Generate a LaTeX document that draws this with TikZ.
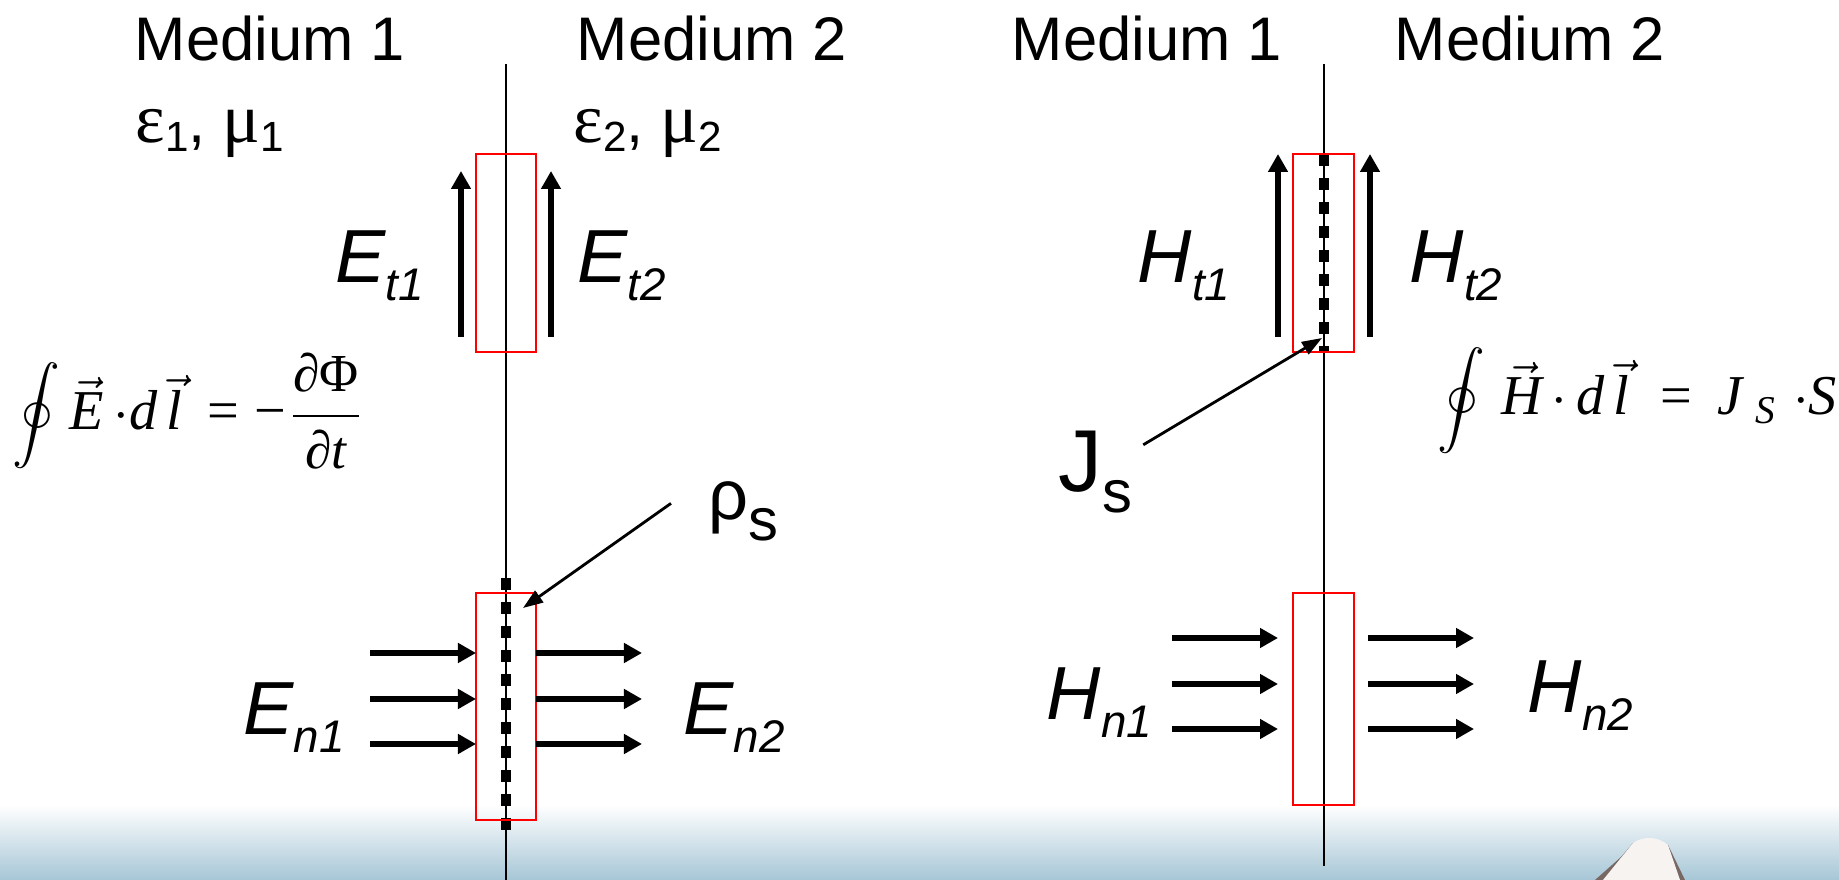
\RequirePackage{fix-cm}
\documentclass[tikz,border=0pt]{standalone}
\usepackage{amsmath}
\usepackage[no-math]{fontspec}
\setmainfont{Liberation Sans}
\newfontfamily\grkfont{Liberation Serif}
\usepackage{tikz}
\usetikzlibrary{arrows.meta}

\definecolor{bandblue}{RGB}{166,198,214}
\definecolor{peakbrown}{RGB}{120,104,100}
\definecolor{snow}{RGB}{246,243,241}

\newcommand{\grk}[1]{{\grkfont\fontsize{20}{24}\selectfont #1}}
\newcommand{\lowsub}[1]{\raisebox{-2.5pt}{\fontsize{12}{14}\selectfont #1}}
\newcommand{\fieldlbl}[2]{{\fontsize{21.4}{24}\selectfont\itshape #1}\raisebox{-5pt}{\fontsize{13}{15}\selectfont\itshape #2}}
\newcommand{\tm}[1]{\text{\grkfont\itshape #1}}
\newcommand{\tu}[1]{\text{\grkfont #1}}
\newcommand{\fracpart}[1]{\text{\grkfont\fontsize{9.5}{11}\selectfont #1}}
\newcommand{\loopint}{\vcenter{\hbox{\scalebox{0.85}{$\displaystyle\oint$}}}}

\begin{document}
\begin{tikzpicture}[x=0.01cm, y=-0.01cm,
    medium/.style={anchor=base, inner sep=0pt, font=\fontsize{17.5}{20}\selectfont},
    field/.style={anchor=base west, inner sep=0pt, font=\fontsize{17.5}{20}\selectfont},
    eqn/.style={anchor=base west, inner sep=0pt},
    iface/.style={line width=0.8pt},
    charge/.style={line width=0.1cm, dash pattern=on 0.12cm off 0.12cm},
    pillbox/.style={draw=red, line width=0.8pt},
    vec/.style={line width=1.5pt, -{Triangle[length=0.18cm,width=0.19cm]}},
    pointer/.style={line width=0.8pt, -{Triangle[length=0.2cm,width=0.14cm]}}]

    \useasboundingbox (0,0) rectangle (1839,880);

    % Fondo
    \shade[top color=white, bottom color=bandblue] (0,805) rectangle (1839,880);
    \fill[peakbrown] (1595,880) -- (1621,857) -- (1633,843) -- (1668,845) -- (1685,880) -- cycle;
    \fill[snow] (1603,880) -- (1633,843) .. controls (1643,836) and (1658,836) .. (1668,845) -- (1680,880) -- cycle;

    % Interfaces
    \draw[iface] (506,64) -- (506,880);
    \draw[iface] (1324,64) -- (1324,866);
    \draw[charge] (506,578) -- (506,830);
    \draw[charge] (1324,154) -- (1324,352);

    % Cajas
    \draw[pillbox] (476,154) rectangle (536,352);
    \draw[pillbox] (476,593) rectangle (536,820);
    \draw[pillbox] (1293,154) rectangle (1354,352);
    \draw[pillbox] (1293,593) rectangle (1354,805);

    % Campos tangenciales
    \draw[vec] (461,337) -- (461,171);
    \draw[vec] (551,337) -- (551,171);
    \draw[vec] (1278,337) -- (1278,154);
    \draw[vec] (1370,337) -- (1370,154);

    % Campos normales
    \foreach \y in {653,699,744} {
        \draw[vec] (370,\y) -- (476,\y);
        \draw[vec] (536,\y) -- (642,\y);
    }
    \foreach \y in {638,684,729} {
        \draw[vec] (1172,\y) -- (1278,\y);
        \draw[vec] (1368,\y) -- (1474,\y);
    }

    % Etiquetas
    \node[medium] (medEa) at (270,61) {Medium 1};
    \node[medium] (medEb) at (712,61) {Medium 2};
    \node[medium] (medHa) at (1147,61) {Medium 1};
    \node[medium] (medHb) at (1530,61) {Medium 2};
    \node[field] (mat1) at (135,143) {\grk{ε}\lowsub{1}, \grk{μ}\lowsub{1}};
    \node[field] (mat2) at (573,143) {\grk{ε}\lowsub{2}, \grk{μ}\lowsub{2}};

    \node[field] (et1) at (335,283) {\fieldlbl{E}{t1}};
    \node[field] (et2) at (577,283) {\fieldlbl{E}{t2}};
    \node[field] (ht1) at (1137,283) {\fieldlbl{H}{t1}};
    \node[field] (ht2) at (1409,283) {\fieldlbl{H}{t2}};
    \node[field] (en1) at (243,735) {\fieldlbl{E}{n1}};
    \node[field] (en2) at (683,735) {\fieldlbl{E}{n2}};
    \node[field] (hn1) at (1046,720) {\fieldlbl{H}{n1}};
    \node[field] (hn2) at (1527,713) {\fieldlbl{H}{n2}};

    % Cargas y corrientes superficiales
    \node[field] (rhos) at (708,520) {{\fontsize{20}{24}\selectfont ρ}\raisebox{-5.7pt}{\fontsize{17}{20}\selectfont s}};
    \node[field] (js) at (1058,492) {{\fontsize{25}{28}\selectfont J}\raisebox{-5.7pt}{\fontsize{17}{20}\selectfont s}};
    \coordinate (rhotip) at (523,608);
    \coordinate (jstip) at (1322,338);
    \draw[pointer] ([xshift=-0.37cm,yshift=0.08cm]rhos.west) -- (rhotip);
    \draw[pointer] ([xshift=0.1cm,yshift=-0.14cm]js.north east) -- (jstip);

    % Ecuaciones
    \node[eqn] (faraday) at (12,430) {\scalebox{1.6}{$\displaystyle\loopint\,\vec{\tm{E}}\,{\cdot}\tm{d}\,\vec{\tm{l}}\,\mathrel{\tu{=}}\tu{−}{\frac{\fracpart{∂Φ}}{\fracpart{∂\itshape t}}}$}};
    \node[eqn] (ampere) at (1437,415) {\scalebox{1.6}{$\displaystyle\loopint\;\vec{\tm{H}}\,{\cdot}\,\tm{d}\,\vec{\tm{l}}\;\mathrel{\tu{=}}\,\tm{J}_{\;\tm{S}}\;{\cdot}\tm{S}$}};

\end{tikzpicture}
\end{document}
